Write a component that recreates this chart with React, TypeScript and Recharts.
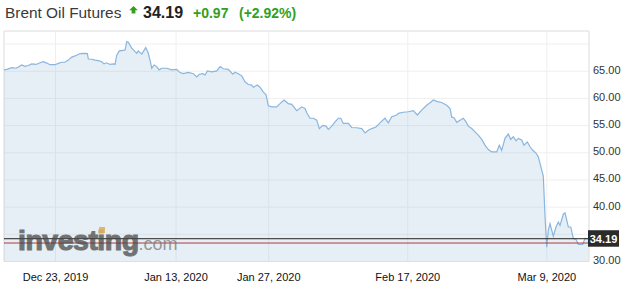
import React from 'react';
import {
  AreaChart,
  Area,
  XAxis,
  YAxis,
  CartesianGrid,
  ReferenceLine,
  ReferenceArea,
} from 'recharts';

// Trading-session offsets relative to Dec 23, 2019 (0 = Dec 23, 13 = Jan 13, ...)
const sessionOffsets = [
  -5.56, -5.26, -4.72, -4.26, -4.05, -3.65, -3.29, -2.93, -2.57, -2.1,
  -1.67, -1.32, -0.95, -0.59, -0.05, 0.3, 0.67, 1.02, 1.38, 1.75,
  2.29, 2.64, 3.18, 3.43, 3.54, 3.91, 4.26, 4.62, 4.98, 5.23,
  5.52, 5.88, 6.24, 6.42, 6.6, 6.88, 7.31, 7.5, 7.68, 7.85,
  8.22, 8.58, 8.76, 8.93, 9.3, 9.73, 10.01, 10.19, 10.38, 10.63,
  10.92, 11.17, 11.46, 12.0, 12.54, 13.07, 13.43, 13.79, 14.33, 14.87,
  15.23, 15.51, 15.88, 16.13, 16.38, 16.85, 17.39, 17.75, 18.1, 18.64,
  19.12, 19.36, 19.72, 20.09, 20.44, 20.8, 21.17, 21.34, 21.77, 22.06,
  22.42, 22.71, 22.96, 23.32, 23.86, 24.22, 24.65, 25.11, 25.48, 26.02,
  26.56, 26.91, 27.1, 27.45, 27.81, 28.18, 28.46, 28.82, 29.18, 29.43,
  29.8, 30.15, 30.51, 30.77, 31.05, 31.59, 31.95, 32.49, 33.03, 33.39,
  33.74, 34.11, 34.57, 35.0, 35.54, 35.9, 36.27, 36.81, 36.98, 37.52,
  38.06, 38.6, 39.03, 39.5, 40.04, 40.4, 40.76, 41.12, 41.66, 42.2,
  42.56, 42.74, 42.99, 43.28, 43.64, 43.99, 44.28, 44.53, 44.9, 45.25,
  45.61, 45.98, 46.33, 46.69, 47.06, 47.59, 47.87, 48.13, 48.49, 48.85,
  49.1, 49.39, 49.68, 49.93, 50.29, 50.54, 50.9, 51.19, 51.48, 51.83,
  52.08, 52.34, 52.62, 52.81, 52.99, 53.16, 53.34, 53.53, 53.7, 53.99,
  54.24, 54.42, 54.78, 54.96, 55.15, 55.32, 55.58, 55.86, 56.15, 56.4,
  56.87, 57.12, 57.48,
];

const prices = [
  65.25, 65.35, 65.65, 65.55, 65.75, 66.15, 65.9, 66.05, 66.35, 66.25,
  66.55, 66.75, 66.5, 66.2, 66.2, 66.45, 66.65, 66.65, 67.05, 67.6,
  67.95, 68.25, 68.3, 68.25, 67.25, 67.2, 67.05, 66.95, 66.75, 66.35,
  66.55, 66.25, 66.35, 66.25, 67.95, 68.75, 68.85, 68.9, 70.45, 70.35,
  69.25, 68.6, 68.3, 68.75, 68.15, 69.35, 68.3, 67.05, 65.55, 66.15,
  65.85, 65.25, 65.55, 65.55, 65.25, 65.35, 64.75, 64.55, 64.8, 64.55,
  63.95, 64.45, 64.55, 64.3, 65.05, 64.9, 65.05, 65.85, 65.45, 65.35,
  64.45, 64.8, 64.55, 64.15, 63.05, 62.55, 62.45, 62.05, 62.45, 62.05,
  61.15, 60.65, 58.65, 58.45, 58.45, 59.05, 59.7, 59.05, 58.9, 57.75,
  58.45, 58.15, 57.35, 56.35, 56.35, 56.0, 54.45, 55.05, 54.9, 54.3,
  54.9, 55.7, 56.35, 56.35, 55.4, 55.4, 54.65, 54.6, 54.45, 53.65,
  54.15, 54.45, 54.75, 55.5, 56.35, 55.5, 56.65, 56.95, 57.25, 57.45,
  57.55, 57.75, 56.95, 57.85, 58.75, 59.2, 59.7, 59.45, 59.25, 58.75,
  58.15, 56.55, 56.45, 55.6, 56.0, 56.35, 55.7, 54.9, 54.45, 53.85,
  53.25, 52.45, 51.4, 50.6, 50.15, 50.15, 51.4, 50.45, 52.65, 53.45,
  52.45, 52.95, 52.2, 52.65, 52.35, 51.4, 52.0, 51.1, 50.45, 49.95,
  49.25, 47.55, 45.7, 38.2, 32.65, 35.75, 36.95, 35.75, 34.65, 36.35,
  37.25, 36.65, 38.7, 38.95, 37.6, 36.35, 36.35, 34.25, 34.05, 33.15,
  33.15, 34.25, 34.19,
];

const tickSessions = [0, 13, 23, 38, 53];
const tickLabels = ['Dec 23, 2019', 'Jan 13, 2020', 'Jan 27, 2020', 'Feb 17, 2020', 'Mar 9, 2020'];
const priceTicks = [30, 35, 40, 45, 50, 55, 60, 65, 70];
// 70 has no label in the reference; 35 sits behind the last-price box
const hiddenPriceLabels = [70, 35];

const title = 'Brent Oil Futures';
const lastPrice = 34.19;
const previousClose = 33.4;
const changeText = '+0.97';
const changePctText = '(+2.92%)';

const xDomain = [-5.56, 57.55];
const yDomain = [30, 72.4];

const data = sessionOffsets.map((t, i) => ({ t, price: prices[i] }));

const FONT = "Arial, 'Liberation Sans', Helvetica, sans-serif";
const GREEN = '#34a020';

const XTick = (props: any) => {
  const { x, y, payload } = props;
  const idx = tickSessions.indexOf(payload.value);
  return (
    <text x={x} y={y} dy={19.5} textAnchor="middle" fontSize={11} fill="#111" fontFamily={FONT}>
      {idx >= 0 ? tickLabels[idx] : ''}
    </text>
  );
};

const YTick = (props: any) => {
  const { x, y, payload } = props;
  if (hiddenPriceLabels.includes(payload.value)) return <g />;
  return (
    <text x={x} y={y} dy={2.5} textAnchor="start" fontSize={11} fill="#333" fontFamily={FONT}>
      {payload.value.toFixed(2)}
    </text>
  );
};

const LastPriceLabel = (props: any) => {
  const vb = props.viewBox || {};
  const rx = vb.x + vb.width - 1;
  const cy = vb.y;
  return (
    <g>
      <rect x={rx} y={cy - 8.5} width={31} height={16.5} fill="#2b2b2b" />
      <text
        x={rx + 15.5}
        y={cy + 4}
        textAnchor="middle"
        fontSize={11}
        fontWeight="bold"
        fill="#ffffff"
        fontFamily={FONT}
      >
        {lastPrice.toFixed(2)}
      </text>
    </g>
  );
};

export default function App() {
  return (
    <div
      style={{
        position: 'absolute',
        left: 0,
        top: 0,
        width: 626,
        height: 296,
        background: '#ffffff',
        fontFamily: FONT,
        overflow: 'hidden',
      }}
    >
      <AreaChart
        width={626}
        height={296}
        data={data}
        margin={{ top: 31, right: 0, left: 4, bottom: 0 }}
      >
        <CartesianGrid stroke="#efefef" strokeWidth={1} />
        <XAxis
          dataKey="t"
          type="number"
          domain={xDomain}
          ticks={tickSessions}
          allowDataOverflow
          axisLine={false}
          tickLine={false}
          tickSize={0}
          tickMargin={0}
          height={34.5}
          tick={<XTick />}
          interval={0}
        />
        <YAxis
          orientation="right"
          type="number"
          domain={yDomain}
          ticks={priceTicks}
          allowDataOverflow
          axisLine={false}
          tickLine={false}
          tickSize={4}
          tickMargin={0}
          width={37}
          tick={<YTick />}
          interval={0}
        />
        <ReferenceArea
          x1={xDomain[0]}
          x2={xDomain[1]}
          y1={yDomain[0]}
          y2={yDomain[1]}
          fill="none"
          stroke="#e3e3e3"
          strokeWidth={1}
          ifOverflow="visible"
        />
        <Area
          type="linear"
          dataKey="price"
          stroke="#8ab5de"
          strokeWidth={1.2}
          fill="#8cb4d2"
          fillOpacity={0.22}
          isAnimationActive={false}
          dot={false}
          activeDot={false}
        />
        <ReferenceLine y={previousClose} stroke="#b03a3a" strokeWidth={1} ifOverflow="visible" />
        <ReferenceLine
          y={lastPrice}
          stroke="#222222"
          strokeWidth={1}
          ifOverflow="visible"
          label={<LastPriceLabel />}
        />
      </AreaChart>

      <svg
        width={626}
        height={296}
        style={{ position: 'absolute', left: 0, top: 0, pointerEvents: 'none' }}
      >
        <text x={5} y={18} fontSize={15.4} fill="#3a3a3a" fontFamily={FONT}>
          {title}
        </text>
        <path d="M133.5 6 L137.8 10.3 L135.4 10.3 L135.4 13.5 L131.6 13.5 L131.6 10.3 L129.2 10.3 Z" fill={GREEN} />
        <text x={143} y={18.3} fontSize={16} fontWeight="bold" fill="#222" fontFamily={FONT}>
          {lastPrice.toFixed(2)}
        </text>
        <text x={193} y={18.3} fontSize={14} fontWeight="bold" fill={GREEN} fontFamily={FONT}>
          {changeText}
        </text>
        <text x={239} y={18.3} fontSize={14} fontWeight="bold" fill={GREEN} fontFamily={FONT}>
          {changePctText}
        </text>

        <text x={18} y={250} fontFamily={FONT} opacity={0.72}>
          <tspan
            fontSize={28.5}
            fontWeight="bold"
            fill="#444"
            stroke="#444"
            strokeWidth={1.1}
            letterSpacing={-0.5}
          >
            investing
          </tspan>
          <tspan fontSize={18} fill="#777">.com</tspan>
        </text>
        <rect x={99} y={227} width={6} height={6} fill="#e0b060" opacity={0.9} />
      </svg>
    </div>
  );
}
